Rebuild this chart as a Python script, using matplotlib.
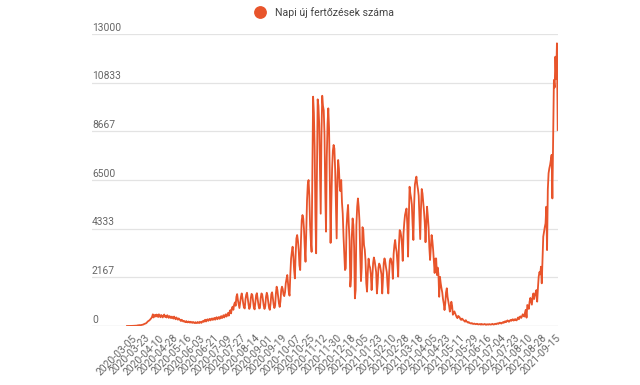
"""
Napi új fertőzések száma - vonaldiagram
"""

import matplotlib.pyplot as plt
from matplotlib.lines import Line2D
from matplotlib.transforms import ScaledTranslation

plt.rcParams["font.family"] = ["Roboto", "DejaVu Sans"]

# napi esetszámok (2020-03-05-től)
napi_esetek = [
    0, 0, 1, 2, 3, 4, 4, 7, 6, 9,
    11, 13, 19, 17, 28, 31, 35, 40, 35, 46,
    55, 60, 80, 95, 110, 120, 150, 190, 220, 240,
    270, 310, 350, 410, 520, 380, 460, 500, 420, 510,
    480, 400, 520, 460, 390, 490, 440, 380, 470, 510,
    410, 450, 380, 480, 430, 360, 440, 400, 350, 420,
    380, 330, 420, 350, 300, 380, 330, 280, 340, 300,
    260, 220, 280, 240, 200, 230, 190, 170, 220, 180,
    160, 200, 170, 150, 190, 160, 140, 180, 150, 130,
    170, 140, 130, 180, 150, 130, 190, 160, 140, 200,
    220, 180, 250, 280, 200, 260, 300, 230, 290, 320,
    250, 300, 340, 270, 320, 360, 280, 350, 390, 300,
    360, 400, 320, 390, 440, 350, 420, 480, 380, 470,
    520, 420, 500, 580, 460, 620, 700, 560, 780, 860,
    720, 950, 1050, 900, 1300, 1420, 1150, 980, 800, 1050,
    1300, 1450, 1250, 1000, 820, 780, 1200, 1400, 1480, 1200,
    950, 760, 850, 1250, 1430, 1380, 1100, 820, 740, 1050,
    1380, 1460, 1200, 950, 780, 800, 1250, 1450, 1400, 1150,
    900, 760, 880, 1300, 1480, 1350, 1050, 800, 720, 1000,
    1420, 1500, 1250, 960, 800, 900, 1450, 1750, 1600, 1300,
    1000, 850, 1100, 1600, 1750, 1650, 1400, 1330, 1500, 1900,
    2100, 2270, 1900, 1500, 1350, 2300, 3000, 3300, 3530, 3100,
    2500, 2120, 3200, 3900, 4050, 3800, 3400, 2700, 2490, 3800,
    4700, 4940, 4800, 4300, 3500, 2860, 4200, 5600, 6300, 6500,
    5800, 4500, 3800, 3300, 7000, 10210, 9500, 8000, 5000, 3236,
    6500, 10090, 9800, 9000, 7000, 5000, 8500, 10250, 9800, 9600,
    8500, 6000, 4200, 7500, 9000, 9690, 8800, 6500, 3700, 5500,
    7000, 7800, 8060, 7900, 7000, 5500, 3900, 6500, 7390, 7000,
    6200, 6000, 6500, 5500, 5000, 4000, 3200, 2490, 2570, 4400,
    5000, 5390, 4500, 3800, 1750, 2200, 4000, 4790, 4500, 3500,
    1230, 1600, 4500, 5300, 5680, 5300, 4700, 3200, 2000, 2600,
    4400, 4300, 3600, 3400, 2900, 1900, 1530, 2400, 3000, 2700,
    2600, 2300, 1600, 2200, 2800, 3050, 2900, 2650, 2400, 1450,
    1900, 2600, 2780, 2700, 2500, 2300, 1450, 2100, 2800, 3010,
    2850, 2600, 2400, 1800, 1450, 2300, 2900, 3010, 2900, 2700,
    2100, 3200, 3600, 3830, 3500, 3300, 2800, 2200, 3600, 4270,
    4200, 4000, 3600, 2900, 4100, 4600, 4940, 5100, 5230, 4500,
    3090, 4800, 6200, 5900, 5700, 5400, 4500, 3830, 5400, 6300,
    6500, 6650, 6300, 6100, 5800, 4900, 3870, 5200, 6100, 5900,
    5500, 5100, 4600, 3730, 4500, 5310, 4900, 4400, 3500, 2940,
    3500, 4050, 3800, 3400, 2900, 2360, 3000, 3010, 2270, 2600,
    2300, 1300, 2190, 1900, 1680, 1500, 1200, 1000, 710, 1000,
    1500, 1680, 1300, 1100, 900, 640, 800, 1080, 900, 500,
    600, 650, 560, 480, 400, 350, 450, 420, 380, 300,
    270, 330, 300, 250, 230, 190, 260, 200, 180, 150,
    170, 140, 120, 110, 130, 100, 90, 110, 95, 80,
    90, 100, 75, 70, 85, 80, 60, 90, 70, 65,
    75, 90, 60, 55, 80, 70, 60, 85, 75, 60,
    80, 95, 70, 65, 90, 100, 80, 110, 120, 95,
    130, 150, 120, 110, 150, 170, 140, 190, 210, 170,
    220, 250, 200, 190, 240, 270, 230, 280, 300, 240,
    270, 310, 260, 250, 330, 380, 300, 400, 430, 360,
    430, 520, 480, 420, 600, 720, 370, 935, 900, 760,
    1080, 1250, 1100, 950, 1300, 1450, 1200, 1350, 1500, 1600,
    1085, 1700, 2200, 2400, 2300, 2640, 1900, 3000, 3980, 4200,
    4400, 4570, 5310, 3380, 6080, 6800, 7020, 7170, 7400, 7620,
    5680, 8500, 10950, 10620, 11990, 11000, 12585, 8726,
]

# minden 18. nap kap feliratot
datum_cimkek = [
    "2020-03-05", "2020-03-23", "2020-04-10", "2020-04-28", "2020-05-16",
    "2020-06-03", "2020-06-21", "2020-07-09", "2020-07-27", "2020-08-14",
    "2020-09-01", "2020-09-19", "2020-10-07", "2020-10-25", "2020-11-12",
    "2020-11-30", "2020-12-18", "2021-01-05", "2021-01-23", "2021-02-10",
    "2021-02-28", "2021-03-18", "2021-04-05", "2021-04-23", "2021-05-11",
    "2021-05-29", "2021-06-16", "2021-07-04", "2021-07-23", "2021-08-10",
    "2021-08-28", "2021-09-15",
]

y_ertekek = [0, 2167, 4333, 6500, 8667, 10833, 13000]

CIMKE_LEPES = 18
SZIN = "#e8542b"
SZOVEG = "#666666"


def rajzol(fajlnev="out.png"):
    fig = plt.figure(figsize=(6.4, 3.85), dpi=100)
    ax = fig.add_axes([92 / 640, 59 / 385, 466.3 / 640, 292 / 385])

    x = list(range(len(napi_esetek)))
    ax.plot(x, napi_esetek, color=SZIN, linewidth=1.3, zorder=3)

    ax.set_xlim(-46.1, 567.8)
    ax.set_ylim(0, 13000)

    # vízszintes rácsvonalak + feliratok a vonal felett
    for v in y_ertekek:
        ax.axhline(v, color="#cccccc" if v == 0 else "#e3e3e3", linewidth=0.9, zorder=1)
        ax.annotate(str(v), xy=(0, v), xycoords=ax.get_yaxis_transform(),
                    xytext=(0, 2.3), textcoords="offset points",
                    ha="left", va="baseline", fontsize=7.4, color=SZOVEG)

    for s in ax.spines.values():
        s.set_visible(False)
    ax.set_yticks([])

    ax.set_xticks(range(0, CIMKE_LEPES * len(datum_cimkek), CIMKE_LEPES))
    ax.set_xticklabels(datum_cimkek, rotation=45, ha="right", va="top",
                       rotation_mode="anchor", fontsize=7.4, color=SZOVEG)
    ax.tick_params(axis="x", length=0, pad=5)
    eltolas = ScaledTranslation(4.5 / 100, 0, fig.dpi_scale_trans)
    for lab in ax.get_xticklabels():
        lab.set_transform(lab.get_transform() + eltolas)

    # jelmagyarázat felül középen
    fig.add_artist(Line2D([260 / 640], [1 - 12.3 / 385], marker="o", markersize=8.2,
                          color=SZIN, linestyle="none", transform=fig.transFigure))
    fig.text(275 / 640, 1 - 12.3 / 385, "Napi új fertőzések száma",
             ha="left", va="center", fontsize=7.6, color="#444444")

    fig.savefig(fajlnev, dpi=100)
    plt.close(fig)


if __name__ == "__main__":
    rajzol()
